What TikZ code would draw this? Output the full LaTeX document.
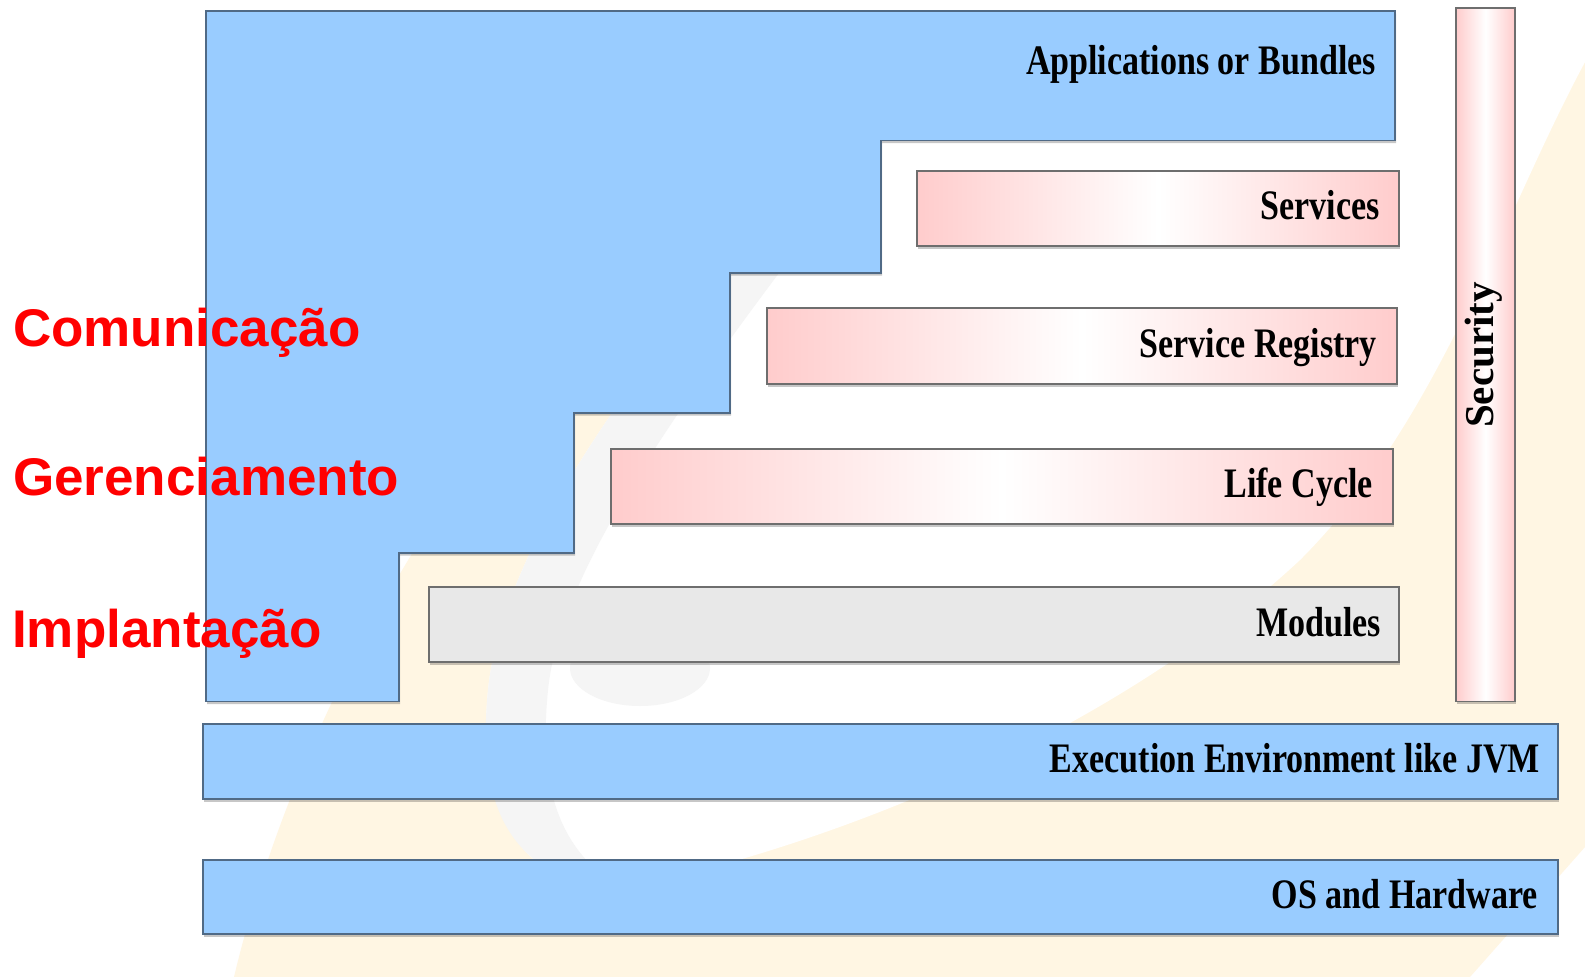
\documentclass[tikz,border=0pt]{standalone}
\usepackage{fontspec}
\usetikzlibrary{shadows}
\newfontfamily\lblfont{Liberation Sans}
\newfontfamily\boxfont{Liberation Serif}[FakeStretch=0.81]
\newfontfamily\secfont{Liberation Serif}
\definecolor{osgiblue}{HTML}{99CCFF}
\definecolor{osgipink}{HTML}{FFCCCC}
\definecolor{modgray}{HTML}{E8E8E8}
\definecolor{wmcream}{HTML}{FFF6E3}
\definecolor{wmgray}{HTML}{F5F5F5}
\definecolor{blueedge}{HTML}{506A86}
\definecolor{grayedge}{HTML}{6E6E6E}
\begin{document}
\begin{tikzpicture}[x=1pt,y=-1pt,
  shadowed/.style={drop shadow={shadow xshift=1pt,shadow yshift=-2.5pt,opacity=0.22,fill=black}},
  bluebox/.style={fill=osgiblue,draw=blueedge,line width=1.8pt,shadowed},
  pinkbox/.style={left color=osgipink,right color=osgipink,middle color=white,draw=grayedge,line width=1.8pt,shadowed},
  graybox/.style={fill=modgray,draw=grayedge,line width=1.8pt,shadowed},
  boxlbl/.style={font=\boxfont\bfseries\fontsize{42}{48}\selectfont,text=black,inner sep=0pt,anchor=base east},
  seclbl/.style={font=\secfont\bfseries\fontsize{41}{48}\selectfont,text=black,inner sep=0pt,rotate=90},
  redlbl/.style={font=\lblfont\bfseries\fontsize{53}{60}\selectfont,text=red,inner sep=0pt,anchor=base west}]
% canvas
\fill[white] (0,0) rectangle (1585,977);
\useasboundingbox (0,0) rectangle (1585,977);
% watermark
\fill[wmcream] (234,977) .. controls (300,700) and (480,380) .. (760,150) -- (1585,30) -- (1585,847) -- (1470,977) -- cycle;
\fill[white] (620,890) .. controls (505,885) and (478,790) .. (488,690)
  .. controls (500,570) and (600,400) .. (800,180) -- (960,0) -- (1585,0) -- (1585,62)
  .. controls (1500,220) and (1440,420) .. (1300,560)
  .. controls (1150,700) and (900,830) .. (620,890) -- cycle;
\fill[wmgray] (585,885) .. controls (500,860) and (478,790) .. (488,690)
  .. controls (500,570) and (600,400) .. (800,180) -- (850,180)
  .. controls (680,400) and (560,570) .. (548,690)
  .. controls (538,790) and (560,850) .. (620,888) -- cycle;
\fill[wmgray] (640,668) ellipse [x radius=70, y radius=38];
% stairs (applications or bundles)
\path[bluebox] (206,11) -- (1395,11) -- (1395,140.5) -- (881,140.5) -- (881,273) -- (730,273)
  -- (730,413) -- (574,413) -- (574,553) -- (399,553) -- (399,701.5) -- (206,701.5) -- cycle;
% layers
\path[pinkbox] (917,171) rectangle (1399,246);
\path[pinkbox] (767,308) rectangle (1397,384);
\path[pinkbox] (611,449) rectangle (1393,524);
\path[graybox] (429,587) rectangle (1399,662);
\path[pinkbox] (1456,8) rectangle (1515,701.5);
\path[bluebox] (203,724) rectangle (1558,799);
\path[bluebox] (203,860) rectangle (1558,934);
% texts
\node[boxlbl] (tapp) at (1376,74) {Applications or Bundles};
\node[boxlbl] (tsrv) at (1380,219) {Services};
\node[boxlbl] (treg) at (1377,357) {Service Registry};
\node[boxlbl] (tlc) at (1373,497) {Life Cycle};
\node[boxlbl] (tmod) at (1381,636) {Modules};
\node[boxlbl] (texe) at (1540,772) {Execution Environment like JVM};
\node[boxlbl] (tos) at (1538,908) {OS and Hardware};
\node[seclbl] (tsec) at (1484,355) {Security};
\node[redlbl] (lcom) at (13,346) {Comunicação};
\node[redlbl] (lger) at (13,495) {Gerenciamento};
\node[redlbl] (limp) at (12,647) {Implantação};
\end{tikzpicture}
\end{document}
